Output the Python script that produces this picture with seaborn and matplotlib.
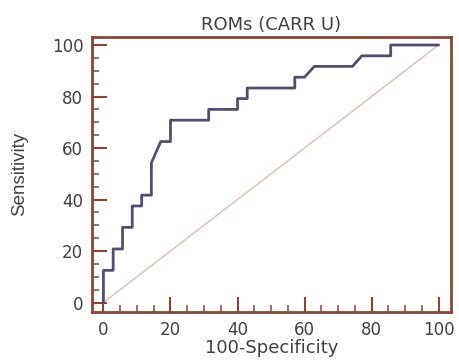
import numpy as np
import pandas as pd
import matplotlib
matplotlib.use("Agg")
import matplotlib.pyplot as plt
import seaborn as sns
from matplotlib.ticker import MultipleLocator

# ROC points (100-Specificity, Sensitivity)
fpr = [0, 0, 2.9, 2.9, 5.7, 5.7, 8.6, 8.6, 11.4, 11.4, 14.3, 14.3, 17.1, 20, 20,
       31.4, 31.4, 40, 40, 42.9, 42.9, 57.1, 57.1, 60, 62.9, 74.3, 77.1, 85.7, 85.7, 100]
tpr = [0, 12.5, 12.5, 20.8, 20.8, 29.2, 29.2, 37.5, 37.5, 41.7, 41.7, 54.2, 62.5, 62.5, 70.8,
       70.8, 75, 75, 79.2, 79.2, 83.3, 83.3, 87.5, 87.5, 91.7, 91.7, 95.8, 95.8, 100, 100]
ref_line = [0, 100]
x_ticks = [0, 20, 40, 60, 80, 100]
y_ticks = [0, 20, 40, 60, 80, 100]

sns.set_style("white")
plt.rcParams['font.family'] = ['DejaVu Sans']

frame = "#8b4536"
text_col = "#404040"

fig = plt.figure(figsize=(4.59, 3.64), dpi=100)
ax = fig.add_axes([0.1998, 0.142, 0.7828, 0.7577])

roc = pd.DataFrame({"fpr": fpr, "tpr": tpr})
sns.lineplot(x=ref_line, y=ref_line, ax=ax, color="#dcbcb4", linewidth=1.0)
sns.lineplot(data=roc, x="fpr", y="tpr", sort=False, estimator=None, ax=ax,
             color="#50506e", linewidth=2.0)

ax.set_xlim(-3.5, 103.7)
ax.set_ylim(-3.8, 103.3)
ax.set_xticks(x_ticks)
ax.set_yticks(y_ticks)
ax.xaxis.set_minor_locator(MultipleLocator(5))
ax.yaxis.set_minor_locator(MultipleLocator(5))
ax.tick_params(which="major", direction="in", length=11, width=1.5, color=frame,
               labelsize=12, labelcolor=text_col, pad=6, left=True, bottom=True)
ax.tick_params(which="minor", direction="in", length=5, width=1.1, color=frame,
               left=True, bottom=True)
for s in ax.spines.values():
    s.set_color(frame)
    s.set_linewidth(2.0)

ax.set_title("ROMs (CARR U)", fontsize=13, color=text_col, pad=5)
ax.set_xlabel("100-Specificity", fontsize=13, color=text_col, labelpad=0)
ax.set_ylabel("Sensitivity", fontsize=13.5, color=text_col, labelpad=17,
              family=['Liberation Sans', 'DejaVu Sans'])

plt.savefig("out.png", dpi=100)
